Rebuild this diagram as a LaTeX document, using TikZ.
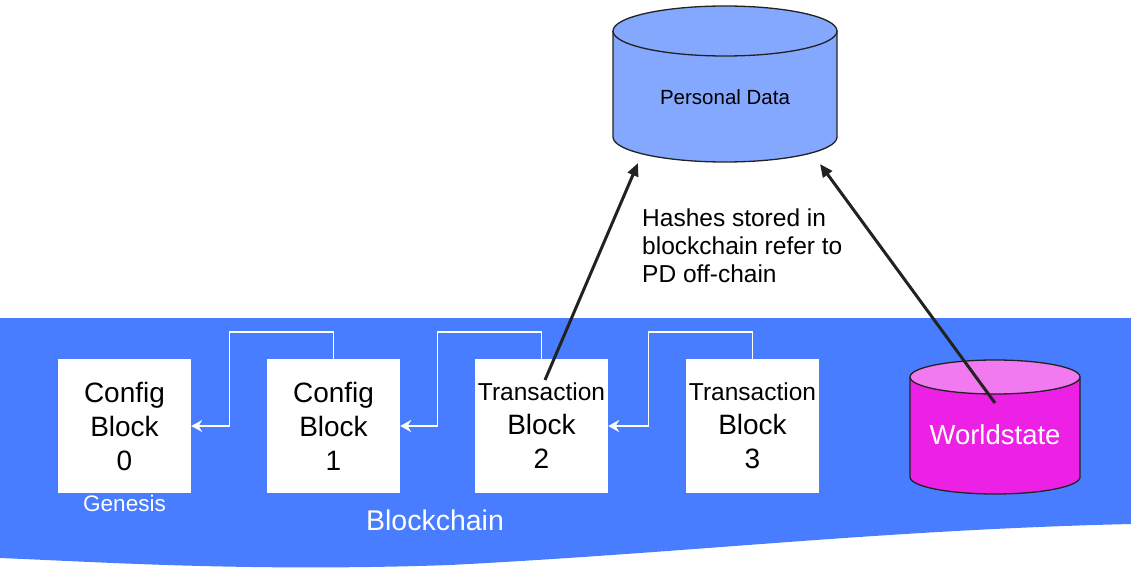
\documentclass[tikz,border=0pt]{standalone}
\usepackage{fontspec}
\setmainfont{Liberation Sans}
\usetikzlibrary{arrows.meta}
\definecolor{chainblue}{RGB}{72,125,255}
\definecolor{pdblue}{RGB}{133,168,255}
\definecolor{wsmag}{RGB}{237,32,230}
\definecolor{wstop}{RGB}{242,122,240}
\definecolor{ink}{RGB}{34,34,34}
\tikzset{
  blockbox/.style={fill=white, minimum width=133pt, minimum height=134pt, inner sep=0pt, align=center,
    font=\fontsize{28}{34}\selectfont, text=black},
  wire/.style={draw=white, line width=1.4pt, -{Stealth[length=11pt,width=12pt]}},
  ref/.style={draw=ink, line width=3pt, -{Triangle[length=13pt,width=11pt]}},
  cylline/.style={draw=ink, line width=1.3pt},
  whitelabel/.style={text=white, inner sep=0pt}
}
\begin{document}
\begin{tikzpicture}[x=1pt,y=-1pt]
\useasboundingbox (0,0) rectangle (1131,572);
% blue band
\fill[chainblue] (0,318) -- (1131,318) -- (1131,524)
  .. controls (880,530) and (700,552) .. (450,565)
  .. controls (250,572) and (100,562) .. (0,558) -- cycle;

% blocks
\node[blockbox] (b0) at (124.5,426) {Config\\Block\\0};
\node[blockbox] (b1) at (333.5,426) {Config\\Block\\1};
\node[blockbox] (b2) at (541.5,426) {{\fontsize{24.5}{34}\selectfont Transaction}\\Block\\2};
\node[blockbox] (b3) at (752.5,426) {{\fontsize{24.5}{34}\selectfont Transaction}\\Block\\3};

\draw[wire] (b1.north) -- ++(0,-27) -| ([xshift=38pt]b0.east) -- (b0.east);
\draw[wire] (b2.north) -- ++(0,-27) -| ([xshift=37pt]b1.east) -- (b1.east);
\draw[wire] (b3.north) -- ++(0,-27) -| ([xshift=40pt]b2.east) -- (b2.east);

\node[whitelabel, font=\fontsize{22.5}{26}\selectfont] (gen) at (124.5,503) {Genesis};
\node[whitelabel, font=\fontsize{28.5}{32}\selectfont] (bc) at (435,520) {Blockchain};

% Personal Data cylinder
\fill[pdblue] (613,31) rectangle (837,137);
\fill[pdblue] (725,137) ellipse [x radius=112pt, y radius=25pt];
\draw[cylline] (613,31) -- (613,137) arc[start angle=180, end angle=360, x radius=112pt, y radius=25pt] -- (837,31);
\draw[cylline, fill=pdblue] (725,31) ellipse [x radius=112pt, y radius=25pt];
\node[inner sep=0pt, font=\fontsize{20.5}{24}\selectfont] (pd) at (725,97) {Personal Data};

% Worldstate cylinder
\fill[wsmag] (910,377) rectangle (1080,477);
\fill[wsmag] (995,477) ellipse [x radius=85pt, y radius=17pt];
\draw[cylline] (910,377) -- (910,477) arc[start angle=180, end angle=360, x radius=85pt, y radius=17pt] -- (1080,377);
\draw[cylline, fill=wstop] (995,377) ellipse [x radius=85pt, y radius=17pt];
\node[whitelabel, font=\fontsize{27.5}{32}\selectfont] (ws) at (995,435) {Worldstate};

% reference arrows
\coordinate (s1) at (545,380);
\coordinate (t1) at (638,163);
\coordinate (s2) at (995,403);
\coordinate (t2) at (820,164);
\draw[ref] (s1) -- (t1);
\draw[ref] (s2) -- (t2);

\node[anchor=west, align=left, inner sep=0pt, font=\fontsize{24.5}{28}\selectfont] (note) at (642,246)
  {Hashes stored in\\blockchain refer to\\PD off-chain};
\end{tikzpicture}
\end{document}
